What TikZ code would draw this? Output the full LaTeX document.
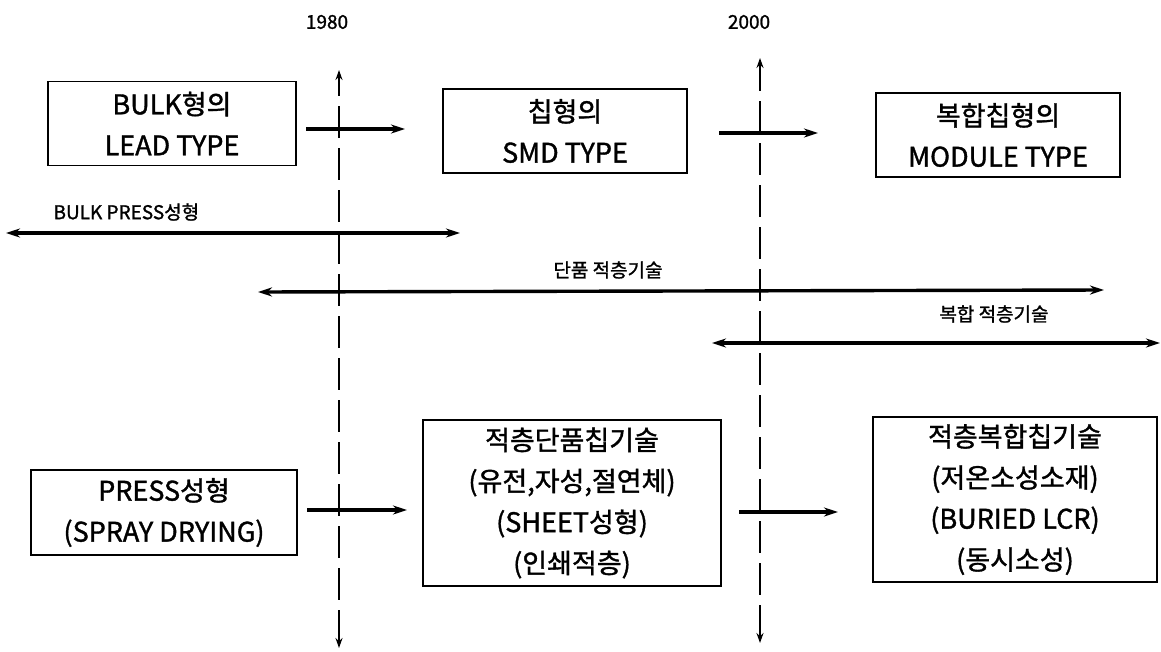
\documentclass[tikz,border=0pt]{standalone}
\usepackage{fontspec}
\setmainfont{Noto Sans CJK KR}
\newfontfamily\medfont[FakeBold=1.3]{Noto Sans CJK KR}
\usetikzlibrary{arrows.meta}
\begin{document}
\begin{tikzpicture}[x=1pt,y=-1pt,
  boxnode/.style={draw,line width=1.8pt,inner sep=0pt,align=center,
    font=\medfont\fontsize{27}{41}\selectfont},
  flow/.style={line width=3.4pt,-{Stealth[length=14pt,width=9pt]}},
  span/.style={line width=3.4pt,{Stealth[length=14pt,width=9pt]}-{Stealth[length=14pt,width=9pt]}},
  era/.style={line width=2pt,dash pattern=on 32pt off 10pt,
    {Stealth[length=10pt,width=7pt]}-{Stealth[length=10pt,width=7pt]}},
  yearlabel/.style={font=\medfont\fontsize{19}{22}\selectfont},
  spanlabel/.style={font=\medfont\fontsize{19}{22}\selectfont}]
\useasboundingbox (0,0) rectangle (1161,651);
% boxes
\node[boxnode,minimum width=248pt,minimum height=84pt] (b1) at (172,123.5) {BULK형의\\LEAD TYPE};
\node[boxnode,minimum width=244pt,minimum height=84pt] (b2) at (565,131) {칩형의\\SMD TYPE};
\node[boxnode,minimum width=244pt,minimum height=84pt] (b3) at (998,135) {복합칩형의\\MODULE TYPE};
\node[boxnode,minimum width=266pt,minimum height=85pt] (b4) at (164,512.5) {PRESS성형\\(SPRAY DRYING)};
\node[boxnode,minimum width=298pt,minimum height=166pt] (b5) at (572,503) {적층단품칩기술\\(유전,자성,절연체)\\(SHEET성형)\\(인쇄적층)};
\node[boxnode,minimum width=284pt,minimum height=165pt] (b6) at (1015,499.5) {적층복합칩기술\\(저온소성소재)\\(BURIED LCR)\\(동시소성)};
% year labels
\node[yearlabel] (y1980) at (327,22) {1980};
\node[yearlabel] (y2000) at (749,22) {2000};
% era lines
\coordinate (e1t) at (339,70);
\coordinate (e1b) at (339,648);
\coordinate (e2t) at (760,58);
\coordinate (e2b) at (760,643);
\draw[era] (e1b) -- (e1t);
\draw[era] (e2b) -- (e2t);
% flow arrows
\coordinate (f1s) at (306,129); \coordinate (f1e) at (405,129);
\coordinate (f2s) at (719,133); \coordinate (f2e) at (818,133);
\coordinate (f3s) at (307,510); \coordinate (f3e) at (407,510);
\coordinate (f4s) at (739,512); \coordinate (f4e) at (838,512);
\draw[flow] (f1s) -- (f1e);
\draw[flow] (f2s) -- (f2e);
\draw[flow] (f3s) -- (f3e);
\draw[flow] (f4s) -- (f4e);
% technology spans
\node[spanlabel,anchor=west] (l1) at (50,212) {BULK PRESS성형};
\coordinate (s1a) at (6,233); \coordinate (s1b) at (460,233);
\draw[span] (s1a) -- (s1b);
\node[spanlabel] (l2) at (608,270) {단품 적층기술};
\coordinate (s2a) at (258,292); \coordinate (s2b) at (1104,290);
\draw[span] (s2a) -- (s2b);
\node[spanlabel] (l3) at (994,314) {복합 적층기술};
\coordinate (s3a) at (712,343); \coordinate (s3b) at (1160,343);
\draw[span] (s3a) -- (s3b);
\end{tikzpicture}
\end{document}
